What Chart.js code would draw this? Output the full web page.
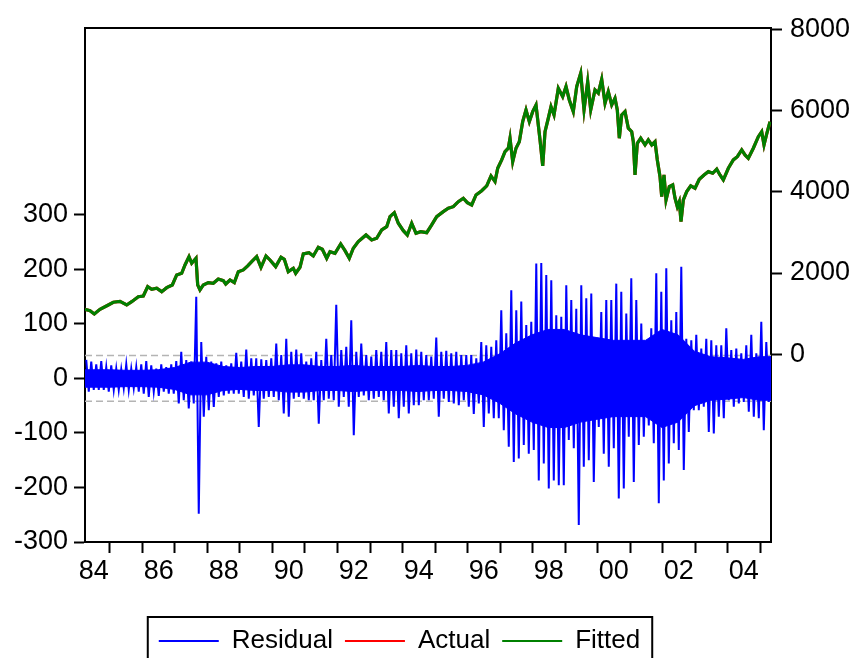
<!DOCTYPE html>
<html>
<head>
<meta charset="utf-8">
<script src="https://cdn.jsdelivr.net/npm/chart.js@4.4.1/dist/chart.umd.min.js"></script>
<style>
  html, body { margin: 0; padding: 0; background: #fff; overflow: hidden; }
  #wrap { width: 859px; height: 664px; }
</style>
</head>
<body>
<div id="wrap"><canvas id="chart" width="859" height="664"></canvas></div>
<script>
// Actual / fitted level (right axis), decimal years
const actualDates = [
  1984.231, 1984.385, 1984.517, 1984.692, 1984.948, 1985.102, 1985.308, 1985.514, 1985.668, 1985.871,
  1986.025, 1986.160, 1986.283, 1986.437, 1986.591, 1986.745, 1986.917, 1987.052, 1987.206, 1987.308,
  1987.431, 1987.514, 1987.646, 1987.698, 1987.769, 1987.871, 1988.025, 1988.178, 1988.332, 1988.486,
  1988.560, 1988.692, 1988.825, 1988.948, 1989.102, 1989.237, 1989.360, 1989.514, 1989.646, 1989.800,
  1989.923, 1990.098, 1990.262, 1990.363, 1990.486, 1990.640, 1990.714, 1990.846, 1990.948, 1991.123,
  1991.255, 1991.409, 1991.532, 1991.668, 1991.769, 1991.923, 1992.098, 1992.231, 1992.363, 1992.486,
  1992.640, 1992.877, 1993.052, 1993.206, 1993.360, 1993.514, 1993.615, 1993.748, 1993.871, 1994.025,
  1994.148, 1994.283, 1994.415, 1994.560, 1994.745, 1994.898, 1995.052, 1995.255, 1995.409, 1995.563,
  1995.717, 1995.871, 1995.994, 1996.129, 1996.262, 1996.437, 1996.591, 1996.723, 1996.846, 1996.929,
  1997.052, 1997.154, 1997.255, 1997.308, 1997.391, 1997.492, 1997.594, 1997.698, 1997.800, 1997.902,
  1998.006, 1998.108, 1998.231, 1998.314, 1998.385, 1998.486, 1998.569, 1998.662, 1998.794, 1998.929,
  1999.031, 1999.132, 1999.255, 1999.360, 1999.483, 1999.585, 1999.698, 1999.791, 1999.923, 2000.025,
  2000.129, 2000.231, 2000.332, 2000.437, 2000.538, 2000.609, 2000.671, 2000.745, 2000.846, 2000.948,
  2001.052, 2001.102, 2001.154, 2001.225, 2001.329, 2001.462, 2001.563, 2001.668, 2001.769, 2001.840,
  2001.923, 2001.975, 2002.046, 2002.108, 2002.209, 2002.314, 2002.385, 2002.455, 2002.517, 2002.569,
  2002.640, 2002.745, 2002.868, 2003.000, 2003.132, 2003.277, 2003.409, 2003.545, 2003.668, 2003.769,
  2003.871, 2004.025, 2004.178, 2004.302, 2004.437, 2004.538, 2004.640, 2004.794, 2004.948, 2005.052,
  2005.123, 2005.206, 2005.308
];
const actualValues = [
  1107, 1073, 992, 1107, 1213, 1280, 1304, 1213, 1295, 1418,
  1435, 1664, 1600, 1625, 1541, 1640, 1706, 1952, 1994, 2198,
  2403, 2240, 2363, 1706, 1582, 1706, 1763, 1747, 1853, 1812,
  1730, 1829, 1763, 2033, 2075, 2174, 2280, 2403, 2141, 2420,
  2321, 2157, 2388, 2338, 2033, 2117, 1994, 2141, 2469, 2501,
  2420, 2634, 2585, 2363, 2526, 2486, 2715, 2550, 2363, 2609,
  2772, 2937, 2813, 2855, 3060, 3141, 3387, 3485, 3225, 3042,
  2937, 3225, 2978, 3018, 2993, 3183, 3387, 3510, 3594, 3633,
  3756, 3840, 3732, 3675, 3921, 4027, 4143, 4389, 4249, 4578,
  4783, 4987, 5071, 5317, 4741, 5071, 5233, 5725, 6013, 5725,
  5972, 6136, 5275, 4635, 5479, 5809, 6095, 5890, 6548, 6341,
  6587, 6259, 5972, 6587, 6917, 6013, 6710, 6013, 6505, 6425,
  6769, 6178, 6464, 6136, 6302, 6013, 5317, 5890, 5972, 5563,
  5479, 5233, 4413, 5194, 5317, 5152, 5275, 5152, 5233, 4783,
  4372, 3879, 4413, 3798, 4126, 4167, 3840, 3633, 3756, 3264,
  3798, 4003, 4143, 4086, 4307, 4413, 4495, 4455, 4554, 4413,
  4290, 4578, 4783, 4864, 5029, 4906, 4824, 5071, 5356, 5479,
  5152, 5423, 5725
];
// fitted lies on top of actual at this scale
const fittedValues = actualValues.slice();

// Residual (left axis): high / low of each short window
const residStart = 1984.231;
const residStep = 0.15385;
const residHi = [
  34, 31, 26, 32, 21, 24, 18, 17, 26, 18, 21, 26, 32, 24, 18, 26, 21, 26, 32, 49,
  34, 31, 150, 67, 40, 31, 28, 31, 24, 28, 47, 31, 53, 37, 37, 35, 34, 37, 64, 43,
  73, 49, 53, 46, 31, 37, 49, 34, 73, 43,
  135, 52, 58, 107, 49, 64, 43, 40, 52, 49, 67, 52, 52, 46, 61, 46, 53, 49, 43, 40,
  75, 49, 51, 46, 49, 43, 43, 43, 37, 67, 61, 58, 70, 125, 83, 162, 125, 141, 98, 104,
  211, 212, 190, 180, 116,
  113, 171, 144, 128, 171, 147, 156, 58, 122, 144, 144, 174, 159, 119, 184, 144, 101, 58, 92, 193,
  159, 202, 107, 122, 205, 73, 70, 80, 55, 73, 70, 61, 61, 92, 52, 55, 46, 61, 80, 46,
  104, 67
];
const residLo = [
  -24, -21, -21, -21, -24, -21, -21, -18, -21, -18, -24, -28, -34, -24, -32, -24, -28, -28, -46, -40,
  -55, -46, -248, -70, -58, -52, -34, -31, -28, -28, -28, -34, -37, -31, -89, -37, -34, -34, -40, -64,
  -70, -37, -34, -37, -40, -40, -83, -40, -37, -40,
  -52, -34, -52, -104, -34, -31, -40, -37, -34, -40, -64, -52, -73, -52, -64, -49, -49, -40, -40, -37,
  -70, -37, -43, -46, -49, -40, -52, -65, -46, -89, -64, -73, -73, -95, -125, -153, -147, -122, -138, -131,
  -187, -156, -202, -187, -196,
  -196, -113, -128, -269, -162, -150, -190, -89, -138, -162, -128, -220, -202, -107, -190, -122, -107, -86, -119, -229,
  -187, -156, -119, -131, -168, -98, -58, -58, -52, -98, -101, -70, -73, -40, -52, -46, -43, -61, -70, -73,
  -95, -43
];
// half-width of the solid core of the residual band, per half year
const residCoreStep = 0.5;
const residCore = [
  16, 16, 15, 15, 16, 20, 30, 30, 22, 20, 22, 22, 25, 25, 22, 22, 24, 22, 22, 22,
  24, 22, 22, 24, 30, 45, 65, 80, 90, 90, 80, 75, 70, 70, 70, 90, 80, 50, 40, 38,
  35, 40, 40
];
const seBand = 42; // +/- 1 S.E. dashed lines

const xMin = 1984.231, xMax = 2005.338;
const yearTicks = [1985, 1986, 1987, 1988, 1989, 1990, 1991, 1992, 1993, 1994, 1995,
  1996, 1997, 1998, 1999, 2000, 2001, 2002, 2003, 2004, 2005];
const yearLabels = [1984.5, 1986.5, 1988.5, 1990.5, 1992.5, 1994.5, 1996.5, 1998.5, 2000.5, 2002.5, 2004.5];
const leftTicks = [-300, -200, -100, 0, 100, 200, 300];
const rightTicks = [0, 2000, 4000, 6000, 8000];
const seriesNames = ["Residual", "Actual", "Fitted"];
const seriesColors = ["#0000ff", "#ff0000", "#008000"];

const residPoints = [];
residHi.forEach((h, i) => {
  const x0 = residStart + i * residStep;
  residPoints.push({ x: x0 + 0.25 * residStep, y: h });
  residPoints.push({ x: x0 + 0.75 * residStep, y: residLo[i] });
});
const coreX = residCore.map((c, k) => Math.min(xMax, residStart + (k + 0.5) * residCoreStep));
const coreUpper = [{ x: xMin, y: residCore[0] }].concat(residCore.map((c, k) => ({ x: coreX[k], y: c })));
const coreLower = [{ x: xMin, y: -residCore[0] }].concat(residCore.map((c, k) => ({ x: coreX[k], y: -c })));
const actualPoints = actualDates.map((d, i) => ({ x: d, y: actualValues[i] }));
const fittedPoints = actualDates.map((d, i) => ({ x: d, y: fittedValues[i] }));

const FONT = { family: "'Liberation Sans', Arial, sans-serif", size: 27 };
const LEGEND_FONT = { family: "'Liberation Sans', Arial, sans-serif", size: 26 };
const PLOT_BOTTOM = 542;

const framePlugin = {
  id: "frame",
  afterLayout(chart) {
    // legend sits a little left of centre in the original
    chart.legend.left -= 30;
    chart.legend.right -= 30;
  },
  afterDraw(chart) {
    const ctx = chart.ctx, a = chart.chartArea, lg = chart.legend;
    ctx.save();
    ctx.strokeStyle = "#000";
    ctx.lineWidth = 2;
    ctx.beginPath();
    ctx.moveTo(a.left - 1, a.top);
    ctx.lineTo(a.right + 1, a.top);
    ctx.stroke();
    // box round the legend
    const hb = lg.legendHitBoxes;
    if (hb && hb.length) {
      const first = hb[0], last = hb[hb.length - 1];
      const cy = first.top + first.height / 2;
      ctx.strokeRect(first.left - 11, cy - 24, last.left + last.width + 12 - (first.left - 11), 80);
    }
    ctx.restore();
  }
};

const yBase = (pos, min, max, ticks, width, pad) => ({
  type: "linear",
  position: pos,
  min: min,
  max: max,
  afterBuildTicks: (s) => { s.ticks = ticks.map(v => ({ value: v })); },
  afterFit: (s) => { s.width = width; },
  grid: { display: true, drawOnChartArea: false, drawTicks: true, tickLength: 11, tickWidth: 2, tickColor: "#000" },
  border: { display: true, color: "#000", width: 2 },
  ticks: { color: "#000", font: FONT, padding: pad, autoSkip: false, callback: (v) => String(v) }
});

new Chart(document.getElementById("chart"), {
  type: "line",
  data: {
    datasets: [
      { label: "Residual", data: residPoints, yAxisID: "yL", borderColor: seriesColors[0], borderWidth: 2, order: 0 },
      { label: "Actual", data: actualPoints, yAxisID: "yR", borderColor: seriesColors[1], borderWidth: 3.2, order: 2 },
      { label: "Fitted", data: fittedPoints, yAxisID: "yR", borderColor: seriesColors[2], borderWidth: 3.2, order: 1 },
      // dense middle of the residual band, filled from upper edge down to lower edge
      { label: "core+", data: coreUpper, yAxisID: "yL", borderWidth: 1, borderColor: seriesColors[0],
        backgroundColor: seriesColors[0], fill: "+1", order: 1 },
      { label: "core-", data: coreLower, yAxisID: "yL", borderWidth: 1, borderColor: seriesColors[0],
        fill: false, order: 1 },
      { label: "se+", data: [{ x: xMin, y: seBand }, { x: xMax, y: seBand }], yAxisID: "yL",
        borderColor: "#b4b4b4", borderWidth: 1.5, borderDash: [7, 4], order: 5 },
      { label: "se-", data: [{ x: xMin, y: -seBand }, { x: xMax, y: -seBand }], yAxisID: "yL",
        borderColor: "#b4b4b4", borderWidth: 1.5, borderDash: [7, 4], order: 5 }
    ]
  },
  options: {
    responsive: false,
    animation: false,
    devicePixelRatio: 1,
    events: [],
    elements: { point: { radius: 0 }, line: { tension: 0 } },
    layout: { padding: { top: 28, left: 0, right: 0, bottom: 0 } },
    scales: {
      x: {
        type: "linear",
        position: "bottom",
        min: xMin,
        max: xMax,
        afterBuildTicks: (s) => {
          s.ticks = yearTicks.concat(yearLabels).sort((a, b) => a - b).map(v => ({ value: v }));
        },
        afterFit: (s) => {
          const lh = s.chart.legend ? s.chart.legend.height || 0 : 0;
          s.height = s.chart.height - PLOT_BOTTOM - lh;
        },
        grid: {
          display: true, drawOnChartArea: false, drawTicks: true, tickLength: 11, tickWidth: 2,
          tickColor: (c) => (c.tick && Number.isInteger(c.tick.value)) ? "#000" : "rgba(0,0,0,0)"
        },
        border: { display: true, color: "#000", width: 2 },
        ticks: {
          color: "#000", font: FONT, padding: 2, autoSkip: false, maxRotation: 0,
          callback: (v) => Number.isInteger(v) ? "" : String(Math.floor(v) % 100).padStart(2, "0")
        }
      },
      yL: yBase("left", -300, 643, leftTicks, 85, 6),
      yR: yBase("right", -4620, 8030, rightTicks, 88, 8)
    },
    plugins: {
      filler: { propagate: false },
      legend: {
        display: true,
        position: "bottom",
        labels: {
          color: "#000",
          font: LEGEND_FONT,
          boxWidth: 60,
          boxHeight: 2,
          padding: 12,
          generateLabels: () => seriesNames.map((n, i) => ({
            text: n, fillStyle: seriesColors[i], strokeStyle: seriesColors[i],
            lineWidth: 0, hidden: false, datasetIndex: i, fontColor: "#000"
          }))
        }
      },
      tooltip: { enabled: false }
    }
  },
  plugins: [framePlugin]
});
</script>
</body>
</html>
